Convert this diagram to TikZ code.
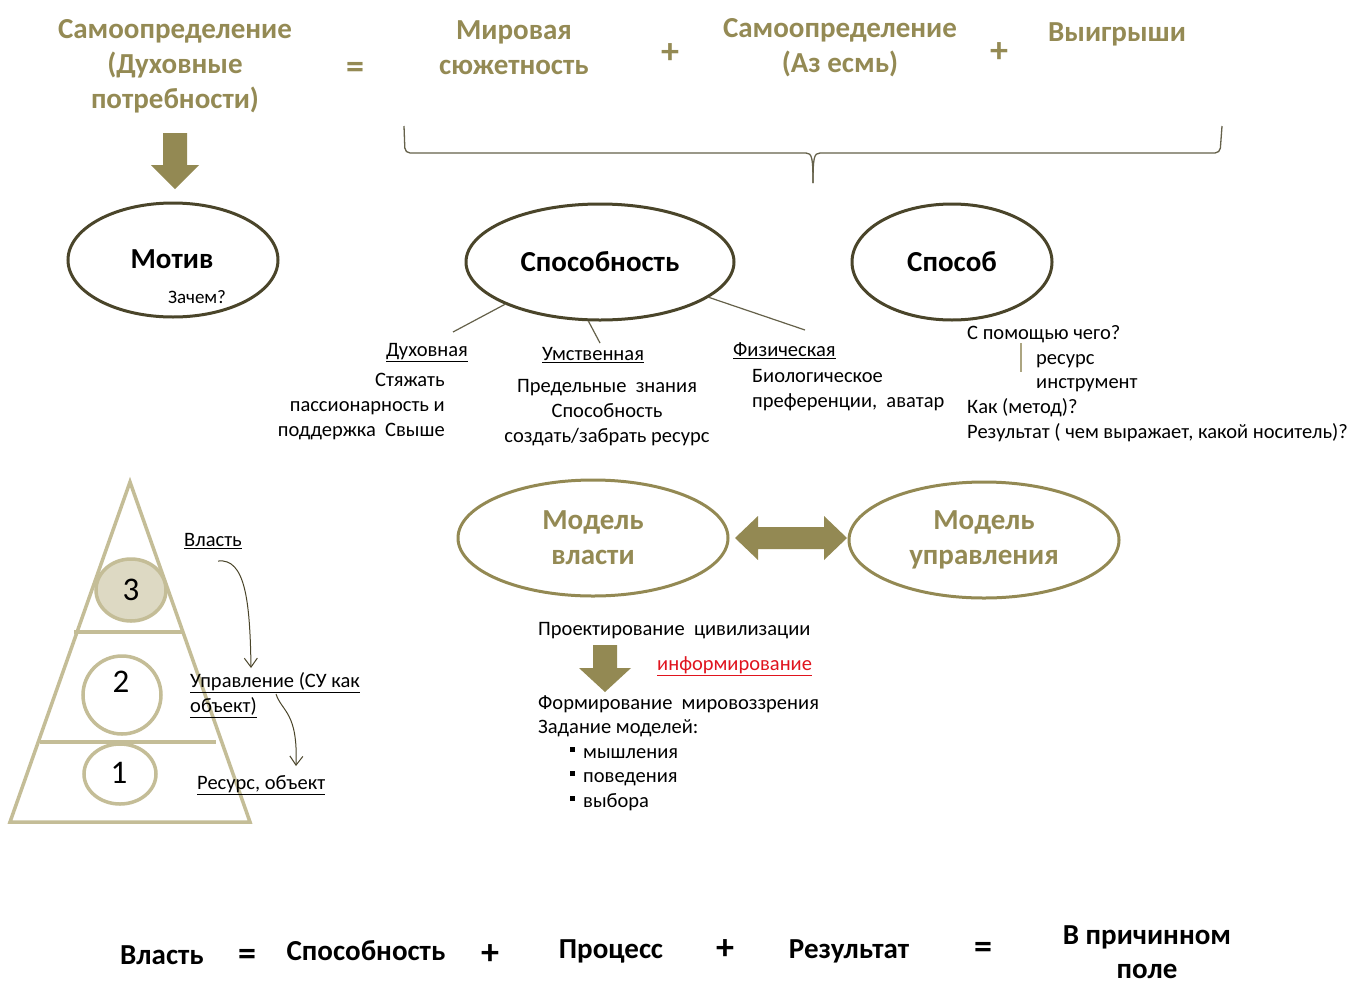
\documentclass[tikz,border=0pt]{standalone}
\usepackage{fontspec}
\setmainfont{Carlito}
\usetikzlibrary{shapes.geometric,arrows.meta}
\definecolor{olive}{HTML}{948A54}
\definecolor{olivefill}{HTML}{938953}
\definecolor{darkol}{HTML}{4A452A}
\definecolor{tan}{HTML}{C4BD97}
\definecolor{tanfill}{HTML}{DDD9C3}
\definecolor{linkred}{HTML}{E0141E}
\tikzset{
  title/.style={text=olive,font=\fontsize{29}{35}\selectfont\bfseries,align=center,inner sep=0pt},
  optxt/.style={text=olive,font=\fontsize{36}{36}\selectfont\bfseries,inner sep=0pt},
  eqtxt/.style={text=black,font=\fontsize{29}{34}\selectfont\bfseries,align=center,inner sep=0pt},
  eqop/.style={text=black,font=\fontsize{36}{36}\selectfont\bfseries,inner sep=0pt},
  body/.style={text=black,font=\fontsize{20.5}{25}\selectfont,inner sep=0pt},
  one/.style={text height=14pt,text depth=5pt},
  darkell/.style={ellipse,draw=darkol,line width=3pt,inner sep=0pt,font=\fontsize{29}{34}\selectfont\bfseries},
  modell/.style={ellipse,draw=olivefill,line width=3pt,inner sep=0pt,text=olive,align=center,font=\fontsize{29}{35}\selectfont\bfseries},
  fatarrow/.style={fill=olivefill,draw=none},
  pyr/.style={draw=tan,line width=3.5pt},
  thinline/.style={draw=darkol!85,line width=1.2pt},
  curvy/.style={draw=darkol,line width=1pt,-{Straight Barb[length=9pt,width=13pt]}},
  num/.style={font=\fontsize{33}{33}\selectfont,inner sep=0pt},
}
\begin{document}
\begin{tikzpicture}[x=1pt,y=-1pt]
\useasboundingbox (0,0) rectangle (1354,983);
\fill[white] (0,0) rectangle (1354,983);

% top formula
\node[title] (t1) at (175,66) {Самоопределение\\(Духовные\\потребности)};
\node[optxt] (eq1) at (355,70) {=};
\node[title] (t2) at (514,48) {Мировая\\сюжетность};
\node[optxt] (pl1) at (670,54) {+};
\node[title] (t3) at (840,48) {Самоопределение\\(Аз есмь)};
\node[optxt] (pl2) at (999,53) {+};
\node[title] (t4) at (1117,34) {Выигрыши};

% brace
\draw[thinline,line width=1.3pt,rounded corners=5pt] (404,126) -- (405,153) -- (806,153);
\draw[thinline,line width=1.3pt] (806,153) .. controls (812,153) and (813,158) .. (813,183);
\draw[thinline,line width=1.3pt,rounded corners=5pt] (1222,126) -- (1220,153) -- (820,153);
\draw[thinline,line width=1.3pt] (820,153) .. controls (814,153) and (813,158) .. (813,183);
\coordinate (bracetip) at (813,183);

% down arrow under title
\fill[fatarrow] (163,133) -- (187,133) -- (187,165) -- (199,165) -- (175,189) -- (151,165) -- (163,165) -- cycle;

% ellipses
\node[darkell,minimum width=210pt,minimum height=114pt] (motiv) at (173,260) {};
\node[font=\fontsize{29}{34}\selectfont\bfseries,inner sep=0pt] (motivt) at (172,259) {Мотив};
\node[body,font=\fontsize{19}{22}\selectfont] (zachem) at (197,297) {Зачем?};

\node[darkell,minimum width=268pt,minimum height=116pt] (spos) at (600,262) {Способность};
\node[darkell,minimum width=200pt,minimum height=116pt] (sposob) at (952,262) {Способ};

% branches
\coordinate (b1) at (453,332);
\coordinate (b2) at (600,343);
\coordinate (b3) at (805,330);
\draw[thinline] (spos.204) -- (b1);
\draw[thinline] (spos.259) -- (b2);
\draw[thinline] (spos.342) -- (b3);

\node[body,one] (duh) at (427,352) {\underline{Духовная}};
\node[body,align=right,anchor=east] (duht) at (445,407) {Стяжать\\пассионарность и\\поддержка\ \ Свыше};
\node[body,one] (um) at (593,356) {\underline{Умственная}};
\node[body,align=center] (umt) at (607,413) {Предельные\ \ знания\\Способность\\создать/забрать ресурс};
\node[body,one,anchor=west] (fiz) at (733,352) {\underline{Физическая}};
\node[body,align=left,anchor=west] (fizt) at (752,390) {Биологическое\\преференции,\ \ аватар};

\node[body,one,anchor=west] (q1) at (967,335) {С помощью чего?};
\coordinate (vl1) at (1021,343);
\coordinate (vl2) at (1021,372);
\draw[draw=tan!80!darkol,line width=1.2pt] (vl1) -- (vl2);
\node[body,one,anchor=west] (r1) at (1036,360) {ресурс};
\node[body,one,anchor=west] (r2) at (1036,384) {инструмент};
\node[body,one,anchor=west] (q2) at (967,409) {Как (метод)?};
\node[body,one,anchor=west] (q3) at (967,434) {Результат ( чем выражает, какой носитель)?};

% pyramid
\draw[pyr,line join=miter] (130,482) -- (250,822) -- (10,822) -- cycle;
\draw[pyr] (74,632) -- (183,632);
\draw[pyr] (40,742) -- (216,742);
\node[ellipse,draw=tan,fill=tanfill,line width=3.5pt,minimum width=70pt,minimum height=62pt,inner sep=0pt] (c3) at (131,590) {};
\node[num] (n3) at (131,590) {3};
\node[circle,draw=tan,line width=3.5pt,minimum size=78pt,inner sep=0pt] (c2) at (122,695) {};
\node[num] (n2) at (121,682) {2};
\node[ellipse,draw=tan,line width=3.5pt,minimum width=72pt,minimum height=60pt,inner sep=0pt] (c1) at (120,774) {};
\node[num] (n1) at (119,773) {1};

\node[body,one,anchor=west] (vlast) at (184,542) {\underline{Власть}};
\node[body,anchor=west,align=left] (upr) at (190,695) {\underline{Управление (СУ как}\\\underline{объект)}};
\node[body,one,anchor=west] (res) at (197,785) {\underline{Ресурс, объект}};
\coordinate (ca1) at (218,561);
\coordinate (ca2) at (251,668);
\coordinate (cb1) at (276,694);
\coordinate (cb2) at (296,766);
\draw[curvy] (ca1) .. controls (245,558) and (250,600) .. (ca2);
\draw[curvy] (cb1) .. controls (282,712) and (298,712) .. (cb2);

% model ellipses
\node[modell,minimum width=270pt,minimum height=116pt] (mv) at (593,538) {Модель\\власти};
\node[modell,minimum width=270pt,minimum height=116pt] (mu) at (984,540) {Модель\\управления};
\fill[fatarrow] (735,538) -- (758,516) -- (758,527) -- (824,527) -- (824,516) -- (847,538) -- (824,560) -- (824,549) -- (758,549) -- (758,560) -- cycle;

% text under models
\node[body,one,anchor=west] (proj) at (538,631) {Проектирование\ \ цивилизации};
\fill[fatarrow] (593,645) -- (617,645) -- (617,668) -- (631,668) -- (605,692) -- (579,668) -- (593,668) -- cycle;
\node[body,one,anchor=west,text=linkred] (inf) at (657,666) {\underline{информирование}};
\node[body,one,anchor=west] (form) at (538,705) {Формирование\ \ мировоззрения};
\node[body,one,anchor=west] (zad) at (538,729) {Задание моделей:};
\node[body,one,anchor=west] (m1) at (583,754) {мышления};
\node[body,one,anchor=west] (m2) at (583,778) {поведения};
\node[body,one,anchor=west] (m3) at (583,803) {выбора};
\fill (570,747) rectangle (575,752);
\fill (570,771) rectangle (575,776);
\fill (570,796) rectangle (575,801);

% bottom formula
\node[eqtxt] (bv) at (162,955) {Власть};
\node[eqop] (be1) at (247,957) {=};
\node[eqtxt] (bs) at (366,951) {Способность};
\node[eqop] (bp1) at (490,955) {+};
\node[eqtxt] (bpr) at (611,951) {Процесс};
\node[eqop] (bp2) at (725,950) {+};
\node[eqtxt] (br) at (849,951) {Результат};
\node[eqop] (be2) at (983,950) {=};
\node[eqtxt] (bpole) at (1147,952) {В причинном\\поле};
\end{tikzpicture}
\end{document}
